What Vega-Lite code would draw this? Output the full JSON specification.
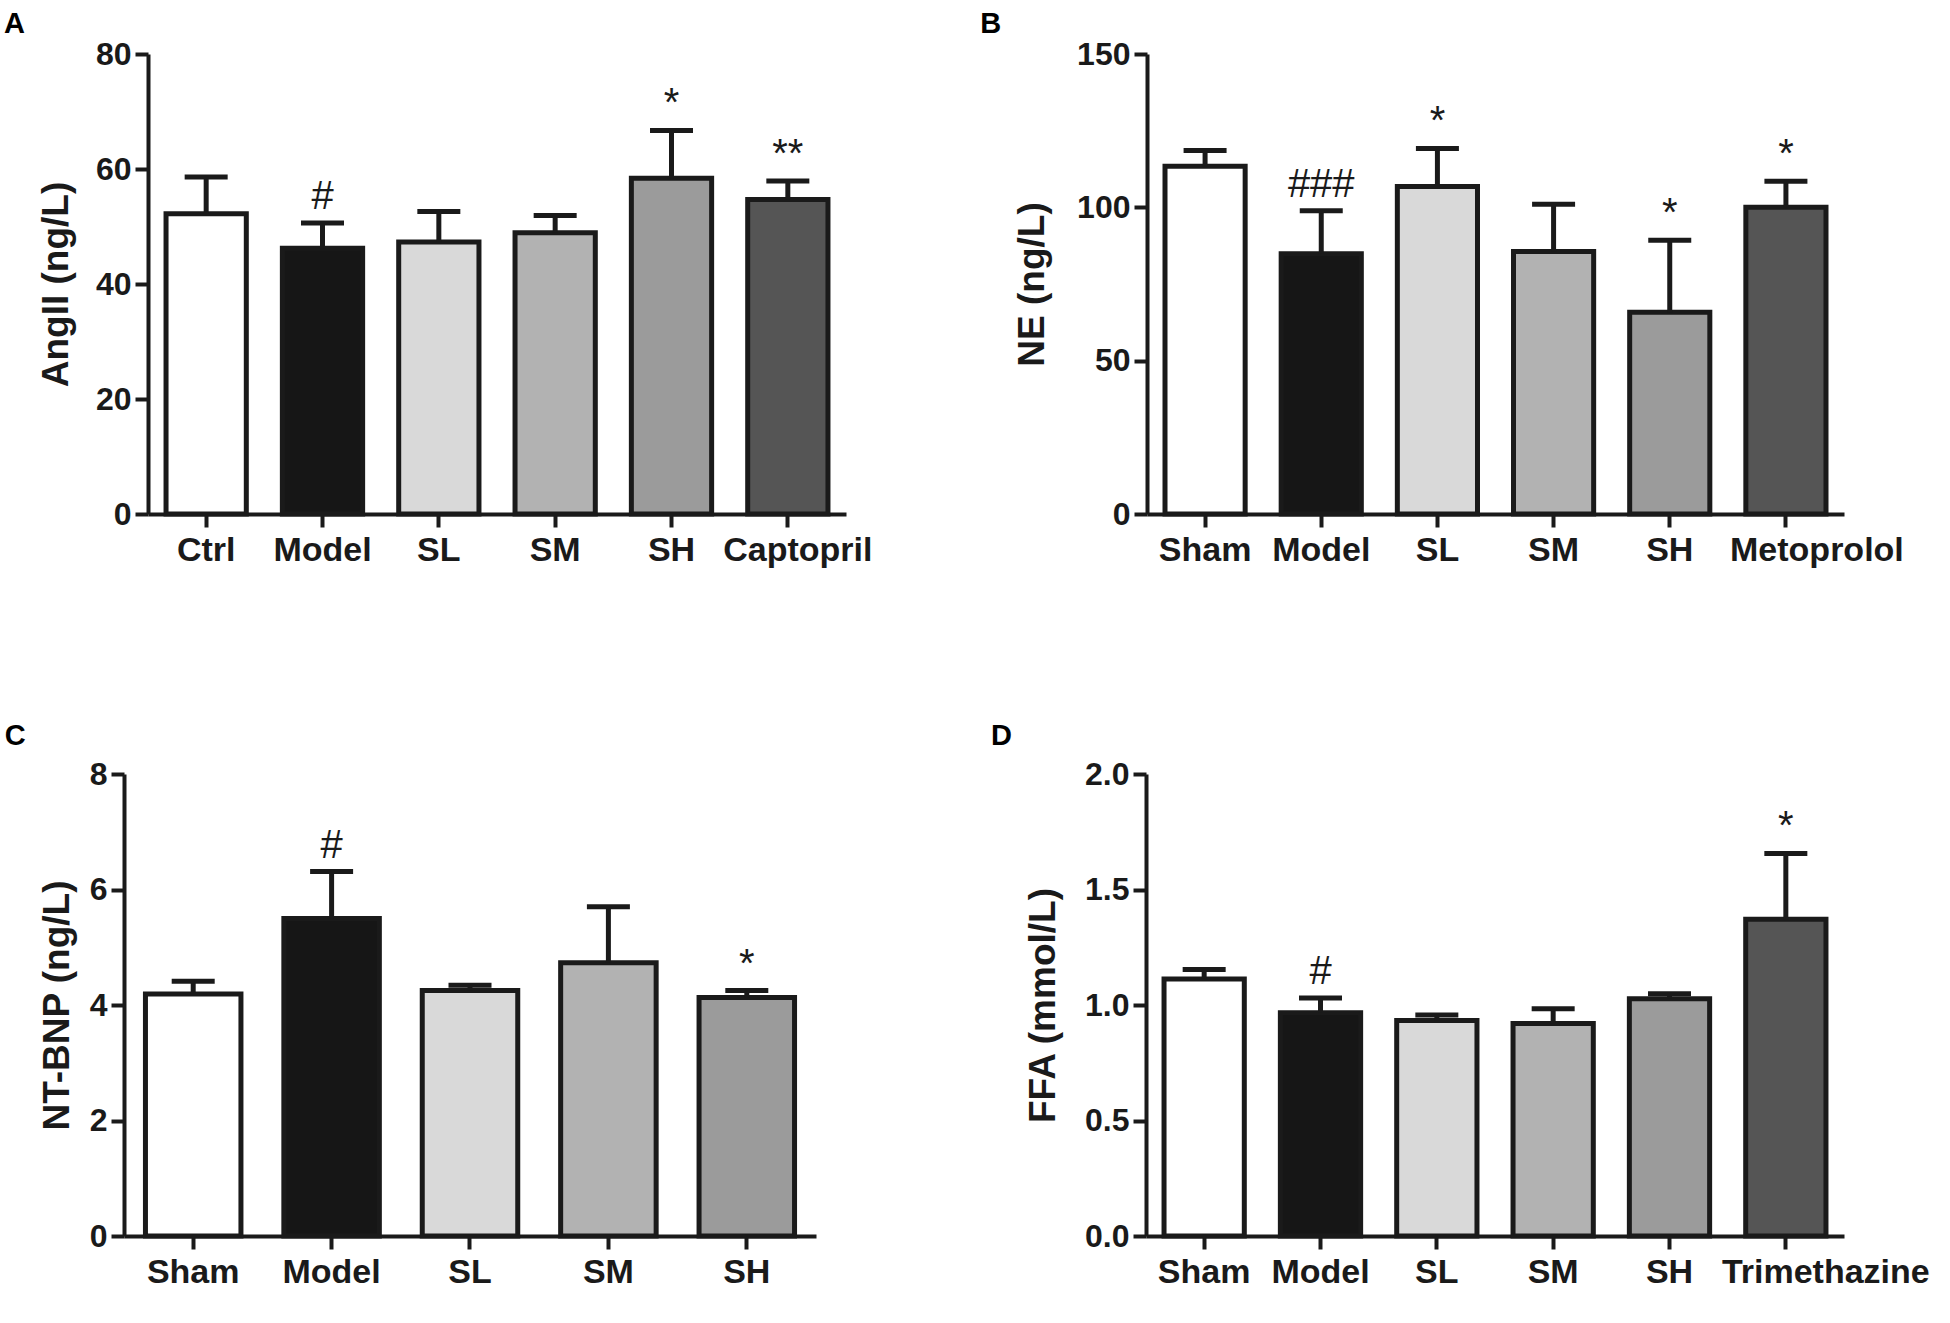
{
  "$schema": "https://vega.github.io/schema/vega-lite/v6.json",
  "background": "white",
  "padding": {"left": 3, "top": 10, "right": 0, "bottom": 0},
  "config": {
    "view": {"stroke": null},
    "axis": {
      "grid": false,
      "domainColor": "#1a1a1a", "domainWidth": 4,
      "tickColor": "#1a1a1a", "tickWidth": 4, "tickSize": 13,
      "labelFont": "Liberation Sans", "labelFontSize": 32, "labelFontWeight": "bold", "labelColor": "#1a1a1a",
      "titleFont": "Liberation Sans", "titleFontSize": 37, "titleFontWeight": "bold", "titleColor": "#1a1a1a"
    },
    "axisX": {"labelAngle": 0, "title": null, "labelPadding": 6, "labelFontSize": 34, "labelLimit": 0},
    "axisY": {"labelPadding": 4},
    "title": {"anchor": "start", "frame": "bounds", "font": "Liberation Sans", "fontSize": 29, "fontWeight": "bold", "color": "#000000", "dx": -33.4}
  },
  "spacing": 155,
  "vconcat": [
    {
      "spacing": 0,
      "hconcat": [
        {"width": 1, "height": 1, "data": {"values": [{"k": 0}]}, "mark": {"type": "text", "text": ""}},
        {
          "spacing": 108,
          "hconcat": [
            {
              "title": {"text": "A", "offset": -1},
              "width": 698, "height": 460,
              "data": {"values": [
                {"group": "Ctrl", "mean": 52.2, "upper": 58.6, "sig": ""},
                {"group": "Model", "mean": 46.2, "upper": 50.6, "sig": "#"},
                {"group": "SL", "mean": 47.3, "upper": 52.6, "sig": ""},
                {"group": "SM", "mean": 48.9, "upper": 51.9, "sig": ""},
                {"group": "SH", "mean": 58.4, "upper": 66.7, "sig": "*"},
                {"group": "Captopril", "mean": 54.7, "upper": 57.9, "sig": "**"}
              ]},
              "encoding": {
                "x": {"field": "group", "type": "nominal", "sort": null, "scale": {"paddingInner": 0.31, "paddingOuter": 0.155},
                      "axis": {"labelOffset": {"condition": {"test": "datum.value === 'Captopril'", "value": 10}, "value": 0}}},
                "y": {"type": "quantitative", "scale": {"domain": [0, 80], "nice": false}, "axis": {"values": [0, 20, 40, 60, 80], "title": "AngII (ng/L)", "titlePadding": 20}}
              },
              "layer": [
                {"mark": {"type": "bar", "stroke": "#1a1a1a", "strokeWidth": 5},
                 "encoding": {"y": {"field": "mean", "type": "quantitative"},
                   "fill": {"field": "group", "type": "nominal", "legend": null, "scale": {"domain": ["Ctrl", "Sham", "Model", "SL", "SM", "SH", "Captopril", "Metoprolol", "Trimethazine"], "range": ["#ffffff", "#ffffff", "#161616", "#d9d9d9", "#b2b2b2", "#9b9b9b", "#555555", "#555555", "#555555"]}}}},
                {"mark": {"type": "rule", "color": "#1a1a1a", "strokeWidth": 5},
                 "encoding": {"y": {"field": "mean", "type": "quantitative"}, "y2": {"field": "upper"}}},
                {"mark": {"type": "tick", "color": "#1a1a1a", "opacity": 1, "size": 43, "thickness": 5},
                 "encoding": {"y": {"field": "upper", "type": "quantitative"}}},
                {"mark": {"type": "text", "font": "Liberation Sans", "fontSize": 40, "baseline": "alphabetic", "dy": -14, "color": "#1a1a1a"},
                 "encoding": {"y": {"field": "upper", "type": "quantitative"}, "text": {"field": "sig"}}}
              ]
            },
            {
              "title": {"text": "B", "offset": -1},
              "width": 697, "height": 460,
              "data": {"values": [
                {"group": "Sham", "mean": 113.4, "upper": 118.5, "sig": ""},
                {"group": "Model", "mean": 84.9, "upper": 98.9, "sig": "###"},
                {"group": "SL", "mean": 106.8, "upper": 119.2, "sig": "*"},
                {"group": "SM", "mean": 85.6, "upper": 101.0, "sig": ""},
                {"group": "SH", "mean": 65.8, "upper": 89.3, "sig": "*"},
                {"group": "Metoprolol", "mean": 100.0, "upper": 108.5, "sig": "*"}
              ]},
              "encoding": {
                "x": {"field": "group", "type": "nominal", "sort": null, "scale": {"paddingInner": 0.31, "paddingOuter": 0.155},
                      "axis": {"labelOffset": {"condition": {"test": "datum.value === 'Metoprolol'", "value": 31}, "value": 0}}},
                "y": {"type": "quantitative", "scale": {"domain": [0, 150], "nice": false}, "axis": {"values": [0, 50, 100, 150], "title": "NE (ng/L)", "titlePadding": 25}}
              },
              "layer": [
                {"mark": {"type": "bar", "stroke": "#1a1a1a", "strokeWidth": 5},
                 "encoding": {"y": {"field": "mean", "type": "quantitative"},
                   "fill": {"field": "group", "type": "nominal", "legend": null, "scale": {"domain": ["Ctrl", "Sham", "Model", "SL", "SM", "SH", "Captopril", "Metoprolol", "Trimethazine"], "range": ["#ffffff", "#ffffff", "#161616", "#d9d9d9", "#b2b2b2", "#9b9b9b", "#555555", "#555555", "#555555"]}}}},
                {"mark": {"type": "rule", "color": "#1a1a1a", "strokeWidth": 5},
                 "encoding": {"y": {"field": "mean", "type": "quantitative"}, "y2": {"field": "upper"}}},
                {"mark": {"type": "tick", "color": "#1a1a1a", "opacity": 1, "size": 43, "thickness": 5},
                 "encoding": {"y": {"field": "upper", "type": "quantitative"}}},
                {"mark": {"type": "text", "font": "Liberation Sans", "fontSize": 40, "baseline": "alphabetic", "dy": -14, "color": "#1a1a1a"},
                 "encoding": {"y": {"field": "upper", "type": "quantitative"}, "text": {"field": "sig"}}}
              ]
            }
          ]
        }
      ]
    },
    {
      "spacing": 0,
      "hconcat": [
        {"width": 1, "height": 1, "data": {"values": [{"k": 0}]}, "mark": {"type": "text", "text": ""}},
        {
          "spacing": 175,
          "hconcat": [
            {
              "title": {"text": "C", "offset": 7},
              "width": 692, "height": 462,
              "data": {"values": [
                {"group": "Sham", "mean": 4.19, "upper": 4.41, "sig": ""},
                {"group": "Model", "mean": 5.50, "upper": 6.31, "sig": "#"},
                {"group": "SL", "mean": 4.25, "upper": 4.34, "sig": ""},
                {"group": "SM", "mean": 4.73, "upper": 5.70, "sig": ""},
                {"group": "SH", "mean": 4.13, "upper": 4.25, "sig": "*"}
              ]},
              "encoding": {
                "x": {"field": "group", "type": "nominal", "sort": null, "scale": {"paddingInner": 0.31, "paddingOuter": 0.155}},
                "y": {"type": "quantitative", "scale": {"domain": [0, 8], "nice": false}, "axis": {"values": [0, 2, 4, 6, 8], "title": "NT-BNP (ng/L)", "titlePadding": 13}}
              },
              "layer": [
                {"mark": {"type": "bar", "stroke": "#1a1a1a", "strokeWidth": 5},
                 "encoding": {"y": {"field": "mean", "type": "quantitative"},
                   "fill": {"field": "group", "type": "nominal", "legend": null, "scale": {"domain": ["Ctrl", "Sham", "Model", "SL", "SM", "SH", "Captopril", "Metoprolol", "Trimethazine"], "range": ["#ffffff", "#ffffff", "#161616", "#d9d9d9", "#b2b2b2", "#9b9b9b", "#555555", "#555555", "#555555"]}}}},
                {"mark": {"type": "rule", "color": "#1a1a1a", "strokeWidth": 5},
                 "encoding": {"y": {"field": "mean", "type": "quantitative"}, "y2": {"field": "upper"}}},
                {"mark": {"type": "tick", "color": "#1a1a1a", "opacity": 1, "size": 43, "thickness": 5},
                 "encoding": {"y": {"field": "upper", "type": "quantitative"}}},
                {"mark": {"type": "text", "font": "Liberation Sans", "fontSize": 40, "baseline": "alphabetic", "dy": -14, "color": "#1a1a1a"},
                 "encoding": {"y": {"field": "upper", "type": "quantitative"}, "text": {"field": "sig"}}}
              ]
            },
            {
              "title": {"text": "D", "offset": 7},
              "width": 698, "height": 462,
              "data": {"values": [
                {"group": "Sham", "mean": 1.113, "upper": 1.154, "sig": ""},
                {"group": "Model", "mean": 0.966, "upper": 1.030, "sig": "#"},
                {"group": "SL", "mean": 0.933, "upper": 0.957, "sig": ""},
                {"group": "SM", "mean": 0.920, "upper": 0.984, "sig": ""},
                {"group": "SH", "mean": 1.027, "upper": 1.049, "sig": ""},
                {"group": "Trimethazine", "mean": 1.371, "upper": 1.656, "sig": "*"}
              ]},
              "encoding": {
                "x": {"field": "group", "type": "nominal", "sort": null, "scale": {"paddingInner": 0.31, "paddingOuter": 0.155},
                      "axis": {"labelOffset": {"condition": {"test": "datum.value === 'Trimethazine'", "value": 40}, "value": 0}}},
                "y": {"type": "quantitative", "scale": {"domain": [0, 2], "nice": false}, "axis": {"values": [0, 0.5, 1, 1.5, 2], "format": ".1f", "title": "FFA (mmol/L)", "titlePadding": 22}}
              },
              "layer": [
                {"mark": {"type": "bar", "stroke": "#1a1a1a", "strokeWidth": 5},
                 "encoding": {"y": {"field": "mean", "type": "quantitative"},
                   "fill": {"field": "group", "type": "nominal", "legend": null, "scale": {"domain": ["Ctrl", "Sham", "Model", "SL", "SM", "SH", "Captopril", "Metoprolol", "Trimethazine"], "range": ["#ffffff", "#ffffff", "#161616", "#d9d9d9", "#b2b2b2", "#9b9b9b", "#555555", "#555555", "#555555"]}}}},
                {"mark": {"type": "rule", "color": "#1a1a1a", "strokeWidth": 5},
                 "encoding": {"y": {"field": "mean", "type": "quantitative"}, "y2": {"field": "upper"}}},
                {"mark": {"type": "tick", "color": "#1a1a1a", "opacity": 1, "size": 43, "thickness": 5},
                 "encoding": {"y": {"field": "upper", "type": "quantitative"}}},
                {"mark": {"type": "text", "font": "Liberation Sans", "fontSize": 40, "baseline": "alphabetic", "dy": -14, "color": "#1a1a1a"},
                 "encoding": {"y": {"field": "upper", "type": "quantitative"}, "text": {"field": "sig"}}}
              ]
            }
          ]
        }
      ]
    }
  ]
}
